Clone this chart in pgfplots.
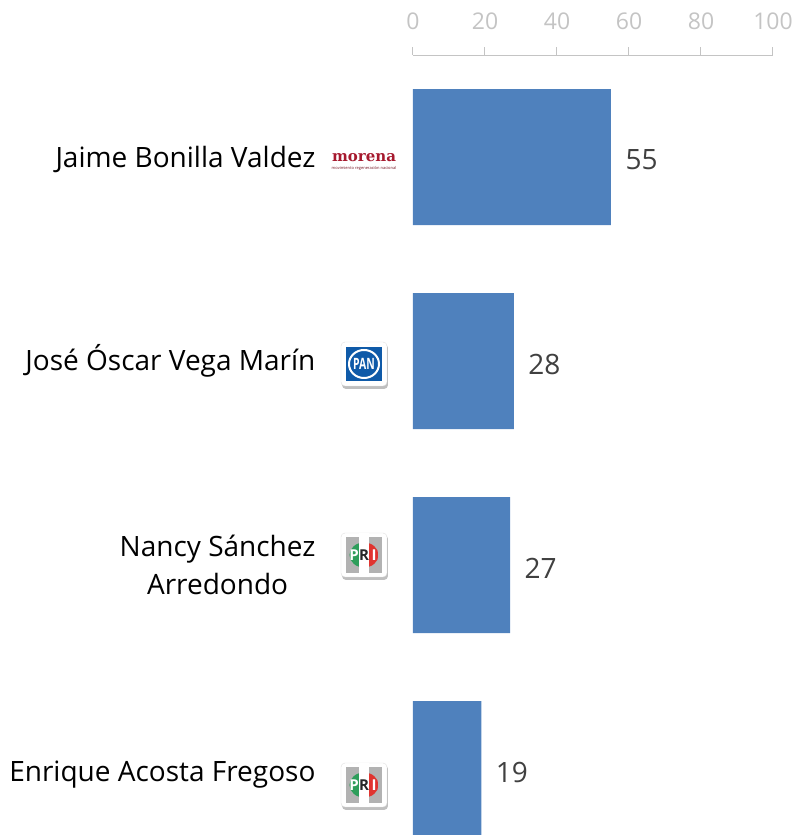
\documentclass[border=0pt]{standalone}
\usepackage{pgfplots}
\pgfplotsset{compat=1.18}
\usepackage{fontspec}
\setmainfont{Open Sans}
\newfontfamily\slabfont{DejaVu Serif}
\definecolor{barblue}{HTML}{4F81BD}
\definecolor{axgrey}{HTML}{C4C4C4}
\definecolor{valgrey}{HTML}{404040}
\definecolor{morenared}{HTML}{A6192E}
\definecolor{panblue}{HTML}{0F5AA8}
\definecolor{prigreen}{HTML}{2E9E5B}
\definecolor{prired}{HTML}{E0342F}
\newcommand{\logobox}[2]{%
  \fill[black!25,rounded corners=4pt] (#1-22pt,#2-25pt) rectangle (#1+24pt,#2+20pt);
  \fill[white,draw=black!12,rounded corners=4pt] (#1-23pt,#2-22pt) rectangle (#1+23pt,#2+22pt);
}
\newcommand{\panlogo}[2]{%
  \logobox{#1}{#2}
  \fill[panblue] (#1-18pt,#2-17pt) rectangle (#1+18pt,#2+17pt);
  \draw[white,line width=2pt] (#1,#2) ellipse (15pt and 14pt);
  \node[white,font=\fontsize{13}{13}\selectfont\bfseries,inner sep=0pt,xscale=0.8,yscale=1.2] at (#1,#2) {PAN};
}
\newcommand{\prilogo}[2]{%
  \logobox{#1}{#2}
  \fill[black!30] (#1-18pt,#2-18pt) rectangle (#1+18pt,#2+18pt);
  \fill[white] (#1-5pt,#2-22pt) rectangle (#1+5pt,#2+22pt);
  \begin{scope}
    \clip (#1,#2) ellipse (14.5pt and 12.5pt);
    \fill[prigreen] (#1-15pt,#2-13pt) rectangle (#1-5pt,#2+13pt);
    \fill[prired] (#1+5pt,#2-13pt) rectangle (#1+15pt,#2+13pt);
  \end{scope}
  \node[white,font=\fontsize{15}{15}\selectfont\bfseries,inner sep=0pt] at (#1-10pt,#2) {P};
  \node[black!85,font=\fontsize{15}{15}\selectfont\bfseries,inner sep=0pt] at (#1,#2) {R};
  \node[white,font=\fontsize{15}{15}\selectfont\bfseries,inner sep=0pt] at (#1+10pt,#2) {I};
}
\begin{document}
\begin{tikzpicture}
\useasboundingbox (-413pt,0pt) rectangle (383pt,835pt);
\begin{axis}[
    at={(0pt,0pt)},
    anchor=south west,
    scale only axis,
    width=360pt,
    height=780pt,
    xbar,
    bar width=136pt,
    xmin=0, xmax=100,
    ymin=-0.5, ymax=3.3235,
    y dir=reverse,
    axis x line*=top,
    axis y line*=left,
    y axis line style={draw=none},
    x axis line style={draw=axgrey,line width=1pt,-},
    xtick={0,20,40,60,80,100},
    ytick={0,1,2,3},
    yticklabels={\raisebox{-2pt}[\height][\depth]{Jaime Bonilla Valdez},José Óscar Vega Marín,{Nancy Sánchez\\Arredondo},\raisebox{-6pt}[\height][\depth]{Enrique Acosta Fregoso}},
    y tick label style={font=\fontsize{28}{38}\selectfont,align=center,anchor=east,xshift=-86pt,text=black},
    x tick label style={font=\fontsize{23}{23}\selectfont,text=axgrey},
    /pgf/number format/assume math mode=true,
    tick align=outside,
    major tick length=8pt,
    x tick style={draw=axgrey,line width=1pt},
    y tick style={draw=none},
    xticklabel shift=14pt,
    nodes near coords,
    every node near coord/.append style={font=\fontsize{28}{28}\selectfont,text=valgrey,xshift=11pt,yshift=-3pt},
]
\addplot[fill=barblue,draw=none] coordinates {
    (55,0)
    (28,1)
    (27,2)
    (19,3)
};
\end{axis}
% party logos, positions in pixels from the axis corner
\node[morenared,font=\fontsize{15}{15}\slabfont\bfseries,inner sep=0pt] at (-49pt,677.5pt) {morena};
\node[morenared!70!black,font=\fontsize{4}{4}\selectfont,inner sep=0pt] at (-49pt,667pt) {movimiento regeneración nacional};
\panlogo{-49pt}{471pt}
\prilogo{-49pt}{280pt}
\prilogo{-49pt}{50pt}
\end{tikzpicture}
\end{document}
